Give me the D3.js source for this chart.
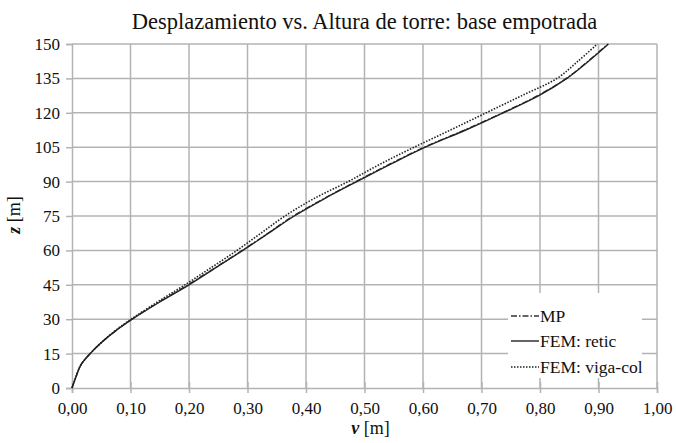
<!DOCTYPE html>
<html><head><meta charset="utf-8">
<script src="https://cdn.jsdelivr.net/npm/d3@7"></script>
<style>
body{margin:0;background:#fff;}
svg{display:block;}
svg text{font-family:"Liberation Serif","Times New Roman",Tinos,"DejaVu Serif",serif;fill:#111;}
</style></head>
<body>
<script>
const zHeights = [0,5,10,15,20,25,30,37.5,45,52.5,60,67.5,75,82.5,90,97.5,105,112.5,120,127.5,135,142.5,150];
const vMP      = [0,0.007,0.015,0.031,0.051,0.075,0.102,0.149,0.198,0.245,0.291,0.335,0.378,0.430,0.485,0.542,0.602,0.671,0.736,0.796,0.845,0.882,0.916];
const vRetic   = [0,0.007,0.015,0.031,0.051,0.075,0.103,0.150,0.200,0.246,0.292,0.336,0.380,0.431,0.487,0.544,0.604,0.673,0.737,0.798,0.846,0.883,0.917];
const vViga    = [0,0.007,0.015,0.031,0.051,0.074,0.101,0.146,0.193,0.238,0.282,0.323,0.364,0.413,0.472,0.526,0.585,0.647,0.708,0.769,0.829,0.865,0.898];
const xTicks = [0,0.1,0.2,0.3,0.4,0.5,0.6,0.7,0.8,0.9,1.0];
const yTicks = [0,15,30,45,60,75,90,105,120,135,150];
const seriesNames = ["MP","FEM: retic","FEM: viga-col"];
const titleText = "Desplazamiento vs. Altura de torre: base empotrada";

const W=676,H=443;
const m={l:72,r:19,t:44,b:55};
const svg=d3.select("body").append("svg").attr("width",W).attr("height",H);
const x=d3.scaleLinear().domain([0,1]).range([m.l,W-m.r]);
const y=d3.scaleLinear().domain([0,150]).range([H-m.b,m.t]);
const grid="#b3b3b3";

// gridlines
svg.append("g").selectAll("line").data(xTicks.slice(1)).join("line")
  .attr("x1",d=>x(d)).attr("x2",d=>x(d)).attr("y1",y(0)).attr("y2",y(150))
  .attr("stroke",grid).attr("stroke-width",1.5);
svg.append("g").selectAll("line").data(yTicks.slice(1)).join("line")
  .attr("x1",x(0)).attr("x2",x(1)).attr("y1",d=>y(d)).attr("y2",d=>y(d))
  .attr("stroke",grid).attr("stroke-width",1.5);

// axes
const fmt=d=>d.toFixed(2).replace(".",",");
const xa=svg.append("g").attr("transform",`translate(0,${y(0)})`)
  .call(d3.axisBottom(x).tickValues(xTicks).tickFormat(fmt).tickSize(5).tickPadding(9));
const ya=svg.append("g").attr("transform",`translate(${x(0)},0)`)
  .call(d3.axisLeft(y).tickValues(yTicks).tickFormat(d=>d).tickSize(6).tickPadding(6));
[xa,ya].forEach(a=>{
  a.attr("font-family",null);
  a.select(".domain").attr("stroke",grid).attr("stroke-width",1.5);
  a.selectAll(".tick line").attr("stroke",grid).attr("stroke-width",1.5);
  a.selectAll("text").attr("font-size",17).attr("fill","#111");
});
xa.selectAll(".tick line").attr("y1",-6);

// lines
const line=d3.line().x(d=>x(d[0])).y(d=>y(d[1])).curve(d3.curveCatmullRom.alpha(0.5));
const styles=[
  {data:vMP,dash:"6,2,1.5,2",w:1.3,c:"#333"},
  {data:vRetic,dash:null,w:1.4,c:"#222"},
  {data:vViga,dash:"1.5,1.5",w:1.6,c:"#222"}
];
styles.forEach(s=>{
  svg.append("path").datum(zHeights.map((z,i)=>[s.data[i],z]))
    .attr("d",line).attr("fill","none").attr("stroke",s.c)
    .attr("stroke-width",s.w).attr("stroke-dasharray",s.dash);
});

// legend
const lg=svg.append("g");
lg.append("rect").attr("x",508).attr("y",293).attr("width",134).attr("height",85).attr("fill","#fff");
const ly=[316,341,367];
styles.forEach((s,i)=>{
  lg.append("line").attr("x1",511).attr("x2",539).attr("y1",ly[i]).attr("y2",ly[i])
    .attr("stroke",s.c).attr("stroke-width",s.w).attr("stroke-dasharray",s.dash);
  lg.append("text").attr("x",540).attr("y",ly[i]+6).attr("font-size",17.5).text(seriesNames[i]);
});

// title
svg.append("text").attr("x",(x(0)+x(1))/2).attr("y",29).attr("text-anchor","middle")
  .attr("font-size",22.5).text(titleText);

// axis titles
const xt=svg.append("text").attr("x",(x(0)+x(1))/2+6).attr("y",434).attr("text-anchor","middle").attr("font-size",18);
xt.append("tspan").attr("font-style","italic").attr("font-weight","bold").text("v");
xt.append("tspan").text(" [m]");
const yt=svg.append("text").attr("transform","translate(20,215) rotate(-90)").attr("text-anchor","middle").attr("font-size",18);
yt.append("tspan").attr("font-style","italic").attr("font-weight","bold").text("z");
yt.append("tspan").text(" [m]");
</script>
</body></html>
